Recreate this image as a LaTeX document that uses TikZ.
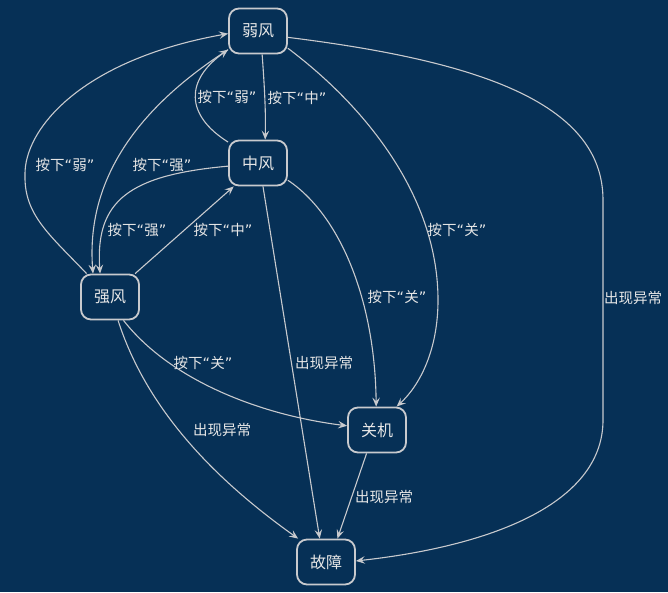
\documentclass[tikz,border=0pt]{standalone}
\usepackage{fontspec}
\setmainfont{Noto Sans CJK SC}
\newfontfamily\quotefont{DejaVu Sans}
\usetikzlibrary{arrows.meta}

\definecolor{bgnavy}{RGB}{6,48,86}
\definecolor{wire}{RGB}{200,202,206}
\definecolor{ink}{RGB}{230,230,230}
\newcommand{\anxia}[1]{按下{\quotefont“}#1{\quotefont”}}

\tikzset{
  state/.style={draw=wire, line width=1.8pt, rounded corners=10pt,
    minimum width=58pt, minimum height=45pt, inner sep=0pt,
    text=ink, font=\fontsize{16}{19}\selectfont},
  edge/.style={draw=wire, line width=1.1pt,
    -{Stealth[length=9pt,width=7.5pt,inset=3.5pt]}},
  lbl/.style={text=ink, inner sep=0pt, font=\fontsize{14.5}{17}\selectfont},
}

\begin{document}
\begin{tikzpicture}[x=1pt,y=-1pt]
  \fill[bgnavy] (0,0) rectangle (668,592);

  \node[state] (weak) at (258,31) {弱风};
  \node[state] (mid) at (258,163) {中风};
  \node[state] (strong) at (110,297) {强风};
  \node[state] (off) at (377,430) {关机};
  \node[state] (fault) at (326,562) {故障};

  \draw[edge] (strong.135) .. controls (50,235) and (24,215) .. (25,175)
    .. controls (24,130) and (80,60) .. (weak.185);
  \draw[edge] (weak.212) .. controls (150,100) and (85,170) .. (strong.126);
  \draw[edge] (mid.145) .. controls (185,115) and (185,80) .. (weak.212);
  \draw[edge] (weak.280) .. controls (264,80) and (266,110) .. (mid.73);
  \draw[edge] (mid.186) .. controls (130,175) and (95,200) .. (strong.113);
  \draw[edge] (strong.43) -- (mid.224);
  \draw[edge] (weak.330) .. controls (370,110) and (438,200) .. (438,300)
    .. controls (438,350) and (420,385) .. (off.50);
  \draw[edge] (mid.330) .. controls (340,215) and (375,300) .. (off.92);
  \draw[edge] (strong.-60) .. controls (170,380) and (260,415) .. (off.172);
  \draw[edge] (strong.-71) .. controls (150,420) and (230,490) .. (fault.140);
  \draw[edge] (mid.282) -- (fault.105);
  \draw[edge] (off.246) -- (fault.64);
  \draw[edge] (weak.348) .. controls (470,60) and (603,100) .. (603,200)
    -- (603,420) .. controls (603,500) and (500,545) .. (fault.2);

  \node[lbl] (pressweak) at (65,165) {\anxia{弱}};
  \node[lbl] (pressstrong) at (162,165) {\anxia{强}};
  \node[lbl] (backweak) at (227,97) {\anxia{弱}};
  \node[lbl] (pressmid) at (297,98) {\anxia{中}};
  \node[lbl] (downstrong) at (137,230) {\anxia{强}};
  \node[lbl] (upmid) at (223,230) {\anxia{中}};
  \node[lbl] (offweak) at (457,230) {\anxia{关}};
  \node[lbl] (offmid) at (397,297) {\anxia{关}};
  \node[lbl] (offstrong) at (203,363) {\anxia{关}};
  \node[lbl] (errstrong) at (222,430) {出现异常};
  \node[lbl] (errmid) at (324,363) {出现异常};
  \node[lbl] (erroff) at (384,497) {出现异常};
  \node[lbl] (errweak) at (633,298) {出现异常};
\end{tikzpicture}
\end{document}
